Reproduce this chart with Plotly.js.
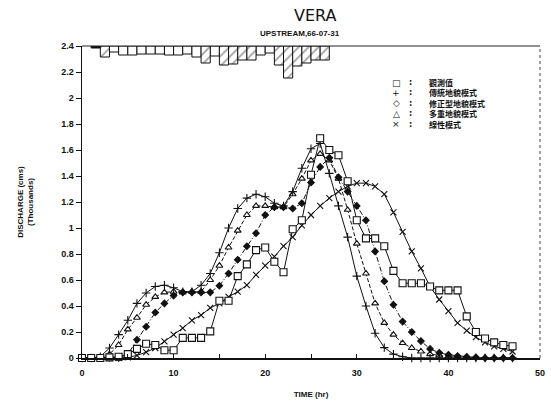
<!DOCTYPE html>
<html>
<head>
<meta charset="utf-8">
<script src="https://cdn.plot.ly/plotly-3.0.1.min.js"></script>
<style>
  html, body { margin: 0; padding: 0; background: #fff; }
  #chart { width: 551px; height: 409px; }
</style>
</head>
<body>
<div id="chart"></div>
<script>
// Hourly time axis (hr)
const hours = [0,1,2,3,4,5,6,7,8,9,10,11,12,13,14,15,16,17,18,19,20,21,22,23,
               24,25,26,27,28,29,30,31,32,33,34,35,36,37,38,39,40,41,42,43,44,45,46,47];

// Discharge, thousands of cms
const observed = [0,0,0,0.005,0.01,0.03,0.07,0.11,0.10,0.06,
                  0.06,0.155,0.155,0.155,0.205,0.44,0.44,0.63,0.72,0.83,
                  0.85,0.74,0.66,0.99,1.06,1.41,1.69,1.60,1.56,1.36,
                  1.06,0.92,0.92,0.86,0.67,0.575,0.575,0.575,0.55,0.52,
                  0.52,0.52,0.32,0.20,0.15,0.12,0.10,0.09];
const traditional = [0,0,0.01,0.077,0.18,0.29,0.42,0.50,0.55,0.56,
                     0.54,0.51,0.51,0.56,0.65,0.81,1.0,1.15,1.23,1.26,
                     1.24,1.19,1.17,1.28,1.46,1.61,1.65,1.42,1.17,0.93,
                     0.63,0.40,0.19,0.08,0.03,0.01,0,0,0,0,
                     0,0,0,0,0,0,0,0];
const modified = [0,0,0,0,0,0.03,0.14,0.24,0.35,0.42,
                  0.48,0.505,0.505,0.505,0.505,0.556,0.65,0.756,0.86,0.96,
                  1.10,1.16,1.16,1.15,1.19,1.35,1.47,1.54,1.39,1.28,
                  1.17,1.06,0.82,0.59,0.41,0.28,0.20,0.13,0.07,0.04,
                  0.025,0.015,0.01,0.005,0,0,0,0];
const multiple = [0,0,0,0.03,0.10,0.22,0.31,0.41,0.47,0.505,
                  0.51,0.505,0.51,0.51,0.60,0.71,0.85,0.98,1.10,1.17,
                  1.17,1.16,1.16,1.26,1.38,1.52,1.57,1.52,1.38,1.14,
                  0.88,0.65,0.42,0.27,0.18,0.115,0.077,0.05,0.03,0.02,
                  0.01,0.005,0,0,0,0,0,0];
const linear = [0,0,0,0,0,0.005,0.02,0.045,0.077,0.128,
                0.18,0.23,0.29,0.33,0.385,0.42,0.47,0.51,0.56,0.64,
                0.71,0.78,0.86,0.93,1.02,1.10,1.17,1.23,1.28,1.32,
                1.345,1.345,1.32,1.26,1.12,0.97,0.82,0.69,0.55,0.45,
                0.36,0.27,0.21,0.16,0.12,0.09,0.07,0.05];

// Hourly rainfall (mm), hanging from the top of the plot; hatched = effective rain
const rainHours = [1,2,3,4,5,6,7,8,9,10,11,12,13,14,15,16,17,18,19,20,21,22,23,24,25,26];
const rain      = [2,11,6,9,9,8,8,8,9,9,8,11,17,10,19,18,14,14,9,7,19,32,20,17,14,14];
const rainHatched = [0,1,0,0,0,0,0,0,0,0,0,0,1,0,1,1,1,1,0,0,1,1,1,1,1,1];

// Legend entries
const legendSymbols = ['\u25A1', '+', '\u25C7', '\u25B3', '\u00D7'];
const legendNames = ['觀測值', '傳統地貌模式', '修正型地貌模式', '多重地貌模式', '線性模式'];

const black = '#111';

function series(y, symbol, size, dash, fill) {
  return {
    x: hours, y: y, type: 'scatter', mode: 'lines+markers', showlegend: false,
    line: { color: black, width: 1, dash: dash },
    marker: { symbol: symbol, size: size, color: fill,
              line: { color: black, width: 1.1 } },
    cliponaxis: false
  };
}

function rainBars(hatched) {
  const xs = [], ys = [], cols = [];
  rainHours.forEach((h, i) => {
    if (!!rainHatched[i] !== hatched) return;
    xs.push(h + 0.5); ys.push(rain[i]); cols.push(i === 0 ? black : '#fff');
  });
  const marker = { color: cols, line: { color: black, width: 1 } };
  if (hatched) {
    marker.pattern = { shape: '/', fgcolor: black, bgcolor: '#fff', size: 7, solidity: 0.25, fillmode: 'overlay' };
  }
  return { x: xs, y: ys, type: 'bar', yaxis: 'y2', width: 1, showlegend: false, marker: marker };
}

const traces = [
  rainBars(false),
  rainBars(true),
  series(linear, 'x-thin-open', 6, 'solid', black),
  series(multiple, 'triangle-up', 6, '4px,2px', '#fff'),
  series(modified, 'diamond', 5, '5px,2px,1px,2px', black),
  series(traditional, 'cross-thin-open', 6, 'solid', black),
  series(observed, 'square', 7, 'solid', '#fff')
];

const tickFont = { family: 'Liberation Sans, Arial, sans-serif', size: 9, color: black, weight: 'bold' };

const annotations = [
  { text: 'UPSTREAM,66-07-31', xref: 'paper', yref: 'paper', x: 0.475, y: 1.04,
    xanchor: 'center', yanchor: 'middle', showarrow: false,
    font: { family: 'Liberation Sans, Arial, sans-serif', size: 8, color: black, weight: 'bold' } }
];
legendNames.forEach((name, i) => {
  const py = 82.5 + i * 10.4;
  const yPaper = (358 - py) / 312;
  annotations.push({ text: legendSymbols[i], xref: 'paper', yref: 'paper',
    x: (396 - 82) / 458, y: yPaper, xanchor: 'center', yanchor: 'middle', showarrow: false,
    font: { family: 'DejaVu Sans', size: 9, color: black } });
  annotations.push({ text: ':', xref: 'paper', yref: 'paper',
    x: (410 - 82) / 458, y: yPaper, xanchor: 'center', yanchor: 'middle', showarrow: false,
    font: { family: 'DejaVu Sans', size: 8, color: black, weight: 'bold' } });
  annotations.push({ text: name, xref: 'paper', yref: 'paper',
    x: (427 - 82) / 458, y: yPaper, xanchor: 'left', yanchor: 'middle', showarrow: false,
    font: { family: 'Noto Sans CJK TC', size: 8, color: black, weight: 'bold' } });
});

const layout = {
  width: 551, height: 409,
  margin: { l: 82, r: 11, t: 46, b: 51 },
  paper_bgcolor: '#fff', plot_bgcolor: '#fff',
  title: { text: 'VERA', x: 0.572, xanchor: 'center', y: 0.962, yanchor: 'middle',
           font: { family: 'DejaVu Sans, sans-serif', size: 16, color: black } },
  xaxis: {
    range: [0, 50], dtick: 10, tick0: 0, ticks: 'inside', ticklen: 4, tickcolor: black,
    minor: { dtick: 5, ticks: 'inside', ticklen: 4, tickcolor: black },
    showgrid: false, zeroline: false, showline: true, linecolor: black, linewidth: 1.5,
    tickfont: tickFont, ticklabelstandoff: 6,
    title: { text: 'TIME (hr)', standoff: 14,
             font: { family: 'Liberation Sans, Arial, sans-serif', size: 8, color: black, weight: 'bold' } }
  },
  yaxis: {
    range: [0, 2.4], dtick: 0.2, tick0: 0, ticks: 'outside', ticklen: 5, tickcolor: black,
    showgrid: false, zeroline: false, showline: true, linecolor: black, linewidth: 1.5,
    tickfont: tickFont,
    title: { text: 'DISCHARGE (cms)<br>(Thousands)', standoff: 26,
             font: { family: 'Liberation Sans, Arial, sans-serif', size: 8, color: black, weight: 'bold' } }
  },
  yaxis2: {
    overlaying: 'y', range: [312, 0], visible: false, showgrid: false, zeroline: false, fixedrange: true
  },
  barmode: 'overlay',
  bargap: 0,
  shapes: [
    { type: 'line', xref: 'paper', yref: 'paper', x0: 0, x1: 1, y0: 1, y1: 1,
      line: { color: '#222', width: 1 } },
    { type: 'line', xref: 'paper', yref: 'paper', x0: 1, x1: 1, y0: 0, y1: 1,
      line: { color: '#444', width: 1, dash: 'dot' } }
  ],
  annotations: annotations
};

Plotly.newPlot('chart', traces, layout, { staticPlot: true, displayModeBar: false });
</script>
</body>
</html>
